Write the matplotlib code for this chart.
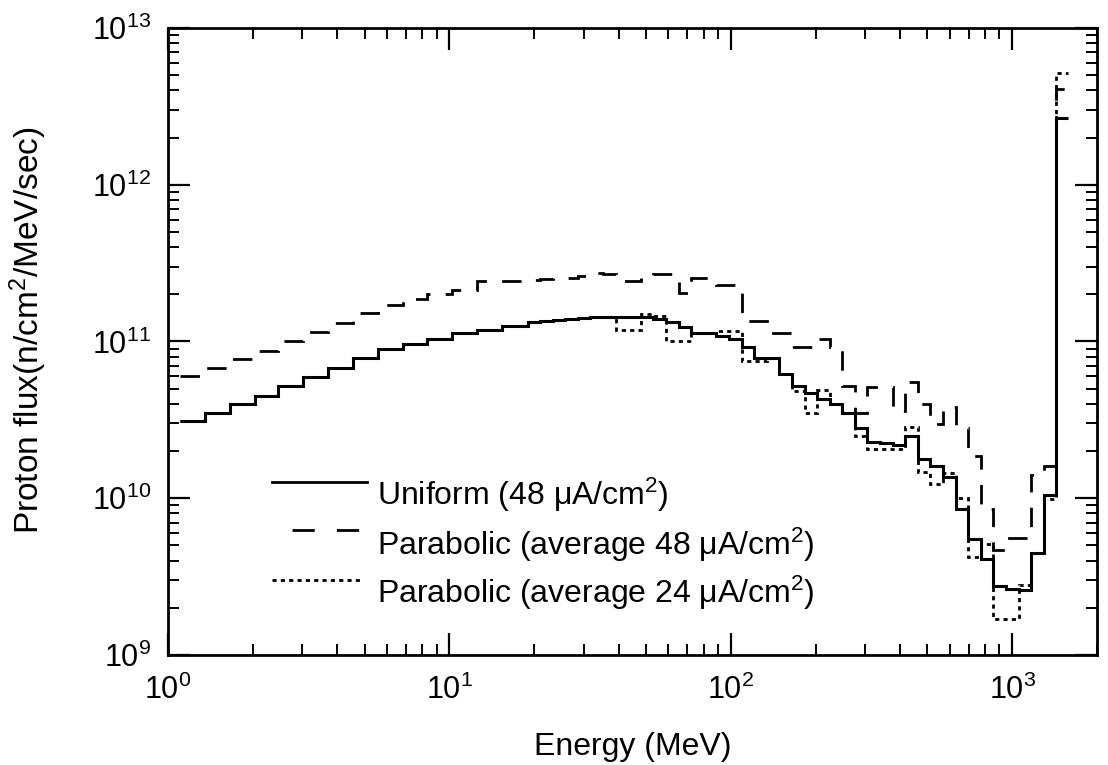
import matplotlib
matplotlib.use('Agg')
import matplotlib.pyplot as plt

plt.rcParams['font.family'] = ['Liberation Sans', 'DejaVu Sans']
plt.rcParams['mathtext.fontset'] = 'custom'
plt.rcParams['mathtext.rm'] = 'Liberation Sans'
plt.rcParams['mathtext.it'] = 'Liberation Sans:italic'
plt.rcParams['mathtext.bf'] = 'Liberation Sans:bold'
plt.rcParams['lines.scale_dashes'] = False

# energy bin edges (MeV)
energy_edges = [1.10, 1.35, 1.66, 2.04, 2.46, 3.02, 3.71, 4.55, 5.59, 6.86, 8.35,
                10.25, 12.58, 15.44, 18.95, 21.01, 23.29, 25.82, 28.62, 31.72,
                35.16, 38.98, 43.21, 47.90, 53.10, 58.86, 65.25, 72.33, 80.18,
                88.88, 98.52, 109.2, 121.1, 134.2, 148.8, 164.9, 182.8, 202.7,
                224.7, 249.1, 276.1, 306.0, 339.2, 376.0, 416.8, 462.1, 512.2,
                567.8, 629.4, 697.7, 773.4, 857.3, 950.3, 1053, 1168, 1294, 1435,
                1580]

# proton flux per bin (n/cm2/MeV/sec)
uniform_48 = [3.11e10, 3.52e10, 3.97e10, 4.48e10, 5.19e10, 5.96e10, 6.8e10, 7.87e10,
              8.9e10, 9.57e10, 1.04e11, 1.14e11, 1.19e11, 1.26e11,
              1.34e11, 1.36e11, 1.38e11, 1.40e11, 1.42e11, 1.43e11, 1.44e11, 1.44e11,
              1.44e11, 1.43e11, 1.40e11, 1.34e11, 1.23e11, 1.14e11, 1.14e11, 1.09e11,
              1.03e11, 9.2e10, 7.9e10, 7.9e10, 6.2e10, 5.2e10, 4.7e10, 4.3e10, 4.0e10,
              3.5e10, 2.8e10, 2.3e10, 2.25e10, 2.2e10, 2.5e10, 1.77e10, 1.6e10, 1.36e10,
              8.5e9, 5.5e9, 4.1e9, 2.75e9, 2.63e9, 2.6e9, 4.5e9, 1.05e10,
              2.65e12]

parabolic_48 = [6.0e10, 6.8e10, 7.7e10, 8.7e10, 1.0e11, 1.15e11, 1.32e11, 1.51e11,
                1.72e11, 1.87e11, 2.02e11, 2.14e11, 2.42e11, 2.42e11,
                2.45e11, 2.5e11, 2.53e11, 2.53e11, 2.63e11, 2.75e11, 2.68e11, 2.42e11,
                2.42e11, 2.55e11, 2.68e11, 2.68e11, 2.05e11, 2.55e11, 2.55e11, 2.3e11,
                2.3e11, 1.35e11, 1.35e11, 1.14e11, 1.14e11, 9.2e10, 9.2e10, 1.03e11,
                9.2e10, 5.2e10, 3.5e10, 5.1e10, 5.1e10, 3.6e10, 5.5e10, 4.0e10, 2.96e10,
                3.8e10, 2.8e10, 1.85e10, 8.5e9, 4.7e9, 5.6e9, 5.6e9, 1.4e10, 1.6e10,
                4.1e12]

parabolic_24 = [3.11e10, 3.52e10, 3.97e10, 4.48e10, 5.19e10, 5.96e10, 6.8e10, 7.87e10,
                8.9e10, 9.57e10, 1.04e11, 1.14e11, 1.19e11, 1.26e11,
                1.34e11, 1.36e11, 1.38e11, 1.40e11, 1.42e11, 1.43e11, 1.44e11, 1.19e11,
                1.19e11, 1.49e11, 1.45e11, 1.0e11, 1.0e11, 1.14e11, 1.14e11, 1.16e11,
                1.16e11, 7.5e10, 7.5e10, 7.9e10, 6.2e10, 4.8e10, 3.5e10, 4.9e10, 4.0e10,
                3.5e10, 2.5e10, 2.05e10, 2.05e10, 2.05e10, 2.83e10, 1.47e10, 1.23e10,
                1.45e10, 1.0e10, 4.2e9, 5.1e9, 1.7e9, 1.7e9, 2.8e9, 4.5e9, 9.9e9,
                5.2e12]

labels = [u'Uniform (48 \u03bcA/cm$^2$)',
          u'Parabolic (average 48 \u03bcA/cm$^2$)',
          u'Parabolic (average 24 \u03bcA/cm$^2$)']

fig = plt.figure(figsize=(11.08, 7.65), dpi=100)
ax = fig.add_axes([0.1516, 0.1438, 0.8384, 0.8196])

dotted = (0, (3.0, 3.0))
dashed = (0, (14.0, 11.0))

ax.stairs(parabolic_24, energy_edges, baseline=None, color='black', lw=2.0, linestyle=dotted)
ax.stairs(parabolic_48, energy_edges, baseline=None, color='black', lw=2.0, linestyle=dashed)
ax.stairs(uniform_48, energy_edges, baseline=None, color='black', lw=2.2)

ax.set_xscale('log')
ax.set_yscale('log')
ax.set_xlim(1, 2000)
ax.set_ylim(1e9, 1e13)

ax.tick_params(which='both', direction='in', top=True, right=True, labelsize=22)
ax.tick_params(axis='x', pad=14)
ax.tick_params(axis='y', pad=12)
ax.tick_params(which='major', length=16, width=1.6)
ax.tick_params(which='minor', length=8, width=1.4)
for s in ax.spines.values():
    s.set_linewidth(2.0)

ax.set_xlabel('Energy (MeV)', fontsize=23)
ax.set_ylabel('Proton flux(n/cm$^2$/MeV/sec)', fontsize=24)
ax.xaxis.set_label_coords(0.5, -0.123)
ax.yaxis.set_label_coords(-0.128, 0.518)

# legend drawn by hand (no frame)
styles = ['-', (0, (16.0, 16.0)), dotted]
handle_x = [(0.112, 0.214), (0.134, 0.207), (0.112, 0.207)]
row_y = [0.276, 0.199, 0.120]
text_y = [0.255, 0.175, 0.099]
for st, hx, ly, ty, lab in zip(styles, handle_x, row_y, text_y, labels):
    ax.plot(hx, [ly, ly], transform=ax.transAxes, color='black', lw=2.0, linestyle=st)
    ax.text(0.225, ty, lab, transform=ax.transAxes, fontsize=23, va='center', ha='left')

fig.savefig('out.png', dpi=100)
